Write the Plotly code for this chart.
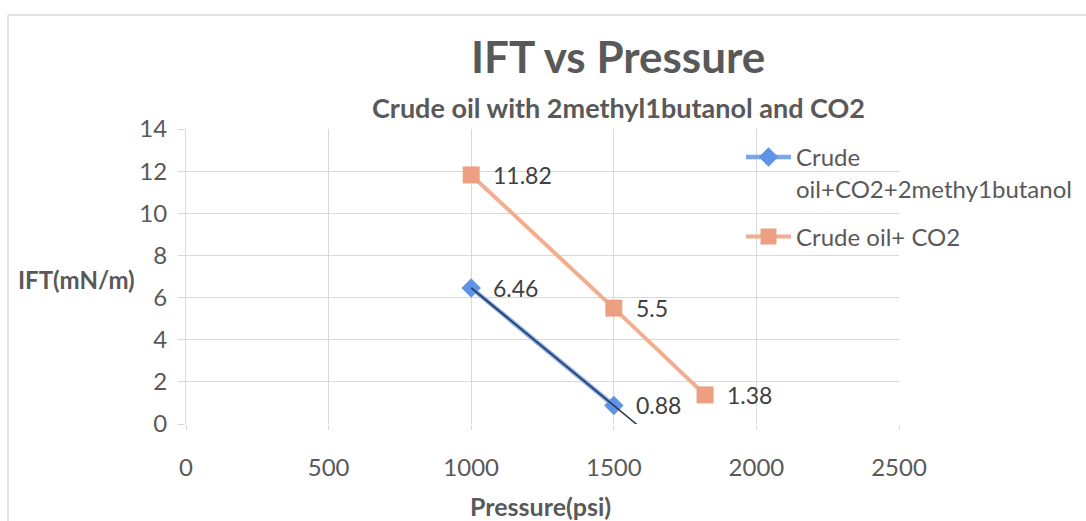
import numpy as np
import plotly.graph_objects as go

# ---- data ----
pressure_blue = [1000, 1500]
ift_blue = [6.46, 0.88]
pressure_orange = [1000, 1500, 1820]
ift_orange = [11.82, 5.5, 1.38]
label_blue = ["6.46", "0.88"]
label_orange = ["11.82", "5.5", "1.38"]
name_blue = "Crude<br>oil+CO2+2methy1butanol"
name_orange = "Crude oil+ CO2"
x_ticks = [0, 500, 1000, 1500, 2000, 2500]
y_ticks = [0, 2, 4, 6, 8, 10, 12, 14]
TREND_FORWARD = 80

FONT = "Lato, 'Open Sans', sans-serif"
GRID = "#d9d9d9"
TXT = "#595959"

W, H = 1086, 521
L, R, T, B = 186, 187, 129, 97
PW, PH = W - L - R, H - T - B

# linear trendline for blue series
slope, intercept = np.polyfit(pressure_blue, ift_blue, 1)
tx = np.array([min(pressure_blue), max(pressure_blue) + TREND_FORWARD])
ty = slope * tx + intercept

fig = go.Figure()
fig.add_trace(go.Scatter(
    x=pressure_blue, y=ift_blue, name=name_blue, mode="lines+markers", legendgroup="a",
    line=dict(color="#7aa6ec", width=4.5),
    marker=dict(symbol="diamond", size=15, color="#5f93e6"),
))
fig.add_trace(go.Scatter(
    x=tx, y=ty, mode="lines", showlegend=False, hoverinfo="skip",
    line=dict(color="#2c3550", width=1.6),
))
fig.add_trace(go.Scatter(
    x=pressure_orange, y=ift_orange, name=name_orange, mode="lines+markers", legendgroup="b",
    line=dict(color="#f2ae8f", width=4),
    marker=dict(symbol="square", size=17, color="#eda081"),
))

ann = []
for xs, ys, ls in [(pressure_blue, ift_blue, label_blue), (pressure_orange, ift_orange, label_orange)]:
    for xv, yv, lv in zip(xs, ys, ls):
        ann.append(dict(x=xv, y=yv, xref="x", yref="y", text=lv, showarrow=False,
                        xanchor="left", yanchor="middle", xshift=20,
                        font=dict(family=FONT, size=23, color="#404040")))

def px(xp):
    return (xp - L) / PW

def py(yp):
    return (H - B - yp) / PH

ann += [
    dict(x=px(618), y=py(56), xref="paper", yref="paper", text="<b>IFT vs Pressure</b>",
         showarrow=False, xanchor="center", yanchor="middle",
         font=dict(family=FONT, size=44, color=TXT)),
    dict(x=px(618), y=py(107), xref="paper", yref="paper",
         text="<b>Crude oil with 2methyl1butanol and CO2</b>",
         showarrow=False, xanchor="center", yanchor="middle",
         font=dict(family=FONT, size=27, color=TXT)),
    dict(x=px(76), y=py(279), xref="paper", yref="paper", text="<b>IFT(mN/m)</b>",
         showarrow=False, xanchor="center", yanchor="middle",
         font=dict(family=FONT, size=24, color=TXT)),
    dict(x=px(540), y=py(506), xref="paper", yref="paper", text="<b>Pressure(psi)</b>",
         showarrow=False, xanchor="center", yanchor="middle",
         font=dict(family=FONT, size=25, color=TXT)),
]

fig.update_layout(
    width=W, height=H,
    margin=dict(l=L, r=R, t=T, b=B, autoexpand=False),
    paper_bgcolor="white", plot_bgcolor="white",
    annotations=ann,
    showlegend=True,
    legend=dict(x=px(741), y=py(135), xanchor="left", yanchor="top",
                bgcolor="rgba(0,0,0,0)", valign="top",
                font=dict(family=FONT, size=24, color=TXT),
                tracegroupgap=14, itemwidth=45),
    shapes=[
        dict(type="line", xref="paper", yref="paper", x0=px(8), x1=px(1086), y0=py(15), y1=py(15),
             line=dict(color=GRID, width=1.5)),
        dict(type="line", xref="paper", yref="paper", x0=px(8), x1=px(8), y0=py(15), y1=py(521),
             line=dict(color=GRID, width=1.5)),
    ],
)
fig.update_xaxes(range=[0, 2500], tickvals=x_ticks, ticktext=[str(v) for v in x_ticks],
                 showgrid=True, gridcolor=GRID, gridwidth=1, zeroline=False,
                 showline=False, ticks="outside", ticklen=5, tickcolor=GRID,
                 ticklabelstandoff=17, tickfont=dict(family=FONT, size=24, color=TXT))
fig.update_yaxes(range=[0, 14], tickvals=y_ticks, ticktext=[str(v) for v in y_ticks],
                 showgrid=True, gridcolor=GRID, gridwidth=1, zeroline=False,
                 showline=True, linecolor=GRID, ticks="outside", ticklen=7, tickcolor=GRID,
                 ticklabelstandoff=6, tickfont=dict(family=FONT, size=24, color=TXT))

fig.write_html("out.html", config={"displayModeBar": False},
               post_script="document.body.style.margin='0';")
